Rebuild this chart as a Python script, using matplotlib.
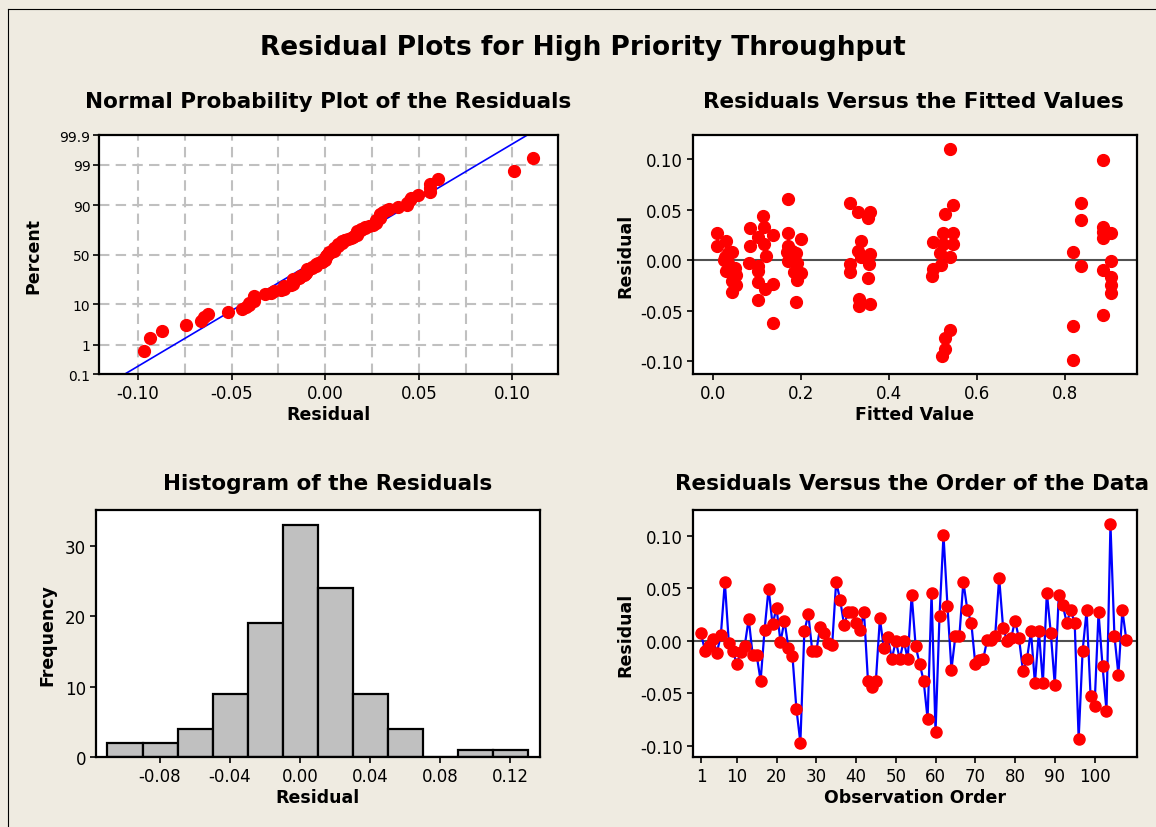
import numpy as np
import matplotlib
matplotlib.use('Agg')
import matplotlib.pyplot as plt
from matplotlib.lines import Line2D
from statistics import NormalDist

#
# residuals in observation order (1..108)
#
residuals = [
    0.007, -0.0095, -0.005, 0.0016, -0.0115, 0.0055, 0.056, -0.002, -0.0095, -0.022,
    -0.011, -0.005, 0.021, -0.0136, -0.0136, -0.038, 0.0104, 0.0497, 0.0155, 0.031,
    -0.0012, 0.019, -0.007, -0.0142, -0.0648, -0.097, 0.0089, 0.0253, -0.0102, -0.0102,
    0.0135, 0.007, -0.002, -0.004, 0.056, 0.039, 0.015, 0.027, 0.027, 0.0172,
    0.0105, 0.027, -0.038, -0.0443, -0.038, 0.0212, -0.0073, 0.0032, -0.0174, -0.0003,
    -0.0174, 0.0, -0.0174, 0.0437, -0.0052, -0.0218, -0.038, -0.0744, 0.0453, -0.087,
    0.0234, 0.1007, 0.0332, -0.0275, 0.0047, 0.0047, 0.056, 0.0294, 0.0168, -0.0222,
    -0.0184, -0.0174, 0.001, 0.0003, 0.0047, 0.060, 0.012, 0.0, 0.0022, 0.019,
    0.0022, -0.029, -0.0174, 0.0089, -0.0405, 0.0089, -0.0405, 0.0459, 0.007, -0.0424,
    0.0437, 0.0339, 0.0171, 0.029, 0.0171, -0.0934, -0.0095, 0.029, -0.0522, -0.0624,
    0.0269, -0.0237, -0.0665, 0.111, 0.0047, -0.0323, 0.029, 0.0006,
]

#
# fitted value / residual pairs
#
fit_x = [
    0.0105, 0.0105, 0.030, 0.028, 0.034, 0.044, 0.025, 0.030, 0.040, 0.050,
    0.052, 0.044, 0.052, 0.044, 0.034,
    0.085, 0.085, 0.083, 0.104, 0.115, 0.116, 0.116, 0.102, 0.104, 0.102,
    0.102, 0.121, 0.119, 0.136, 0.136, 0.136,
    0.172, 0.172, 0.172, 0.170, 0.181, 0.190, 0.172, 0.182, 0.191, 0.184,
    0.200, 0.191, 0.200, 0.190,
    0.312, 0.331, 0.357, 0.353, 0.338, 0.331, 0.338, 0.357, 0.356, 0.312,
    0.312, 0.353, 0.332, 0.332, 0.357,
    0.539, 0.545, 0.527, 0.523, 0.545, 0.500, 0.523, 0.545, 0.516, 0.539,
    0.518, 0.500, 0.499, 0.539, 0.527, 0.527, 0.521,
    0.836, 0.836, 0.818, 0.836, 0.818, 0.818,
    0.886, 0.887, 0.886, 0.905, 0.886, 0.905, 0.886, 0.905, 0.905, 0.905,
    0.886,
]
fit_resid = [
    0.0267, 0.0135, 0.0185, 0.0026, 0.007, 0.0076, 0.0, -0.0105, -0.009, -0.008,
    -0.015, -0.0205, -0.0248, -0.0313, -0.003,
    0.0314, 0.0142, -0.0033, 0.0224, 0.0432, 0.0323, 0.0158, -0.0063, -0.0105, -0.022,
    -0.0396, 0.0036, -0.0287, 0.0248, -0.0238, -0.0627,
    0.0604, 0.0267, 0.0135, 0.0076, 0.0092, 0.0069, -0.0007, -0.0007, -0.0033, -0.0122,
    -0.0129, -0.0195, 0.0208, -0.0413,
    0.0564, 0.0479, 0.0472, 0.0413, 0.0191, 0.0092, 0.0026, 0.0059, -0.004, -0.004,
    -0.0122, -0.018, -0.0386, -0.0459, -0.0436,
    0.110, 0.0545, 0.0455, 0.0267, 0.0267, 0.0182, 0.0158, 0.0158, 0.0069, 0.0033,
    -0.005, -0.0089, -0.0162, -0.069, -0.0776, -0.0881, -0.0947,
    0.0564, 0.0396, 0.0076, -0.0056, -0.065, -0.099,
    0.099, 0.0323, 0.0215, 0.0267, 0.0274, -0.0013, -0.0096, -0.0172, -0.0248, -0.033,
    -0.0545,
]

hist_edges = [-0.11, -0.09, -0.07, -0.05, -0.03, -0.01, 0.01, 0.03, 0.05, 0.07, 0.09, 0.11, 0.13]
prob_ticks = [0.1, 1, 10, 50, 90, 99, 99.9]
prob_grid = [1, 10, 50, 90, 99]

BG = '#efebe1'
RED = '#ff0000'
BLUE = '#0000ff'
TICK_FS = 12
LABEL_FS = 12.5
TITLE_FS = 15.5


def style_axes(ax):
    for s in ax.spines.values():
        s.set_linewidth(1.6)
        s.set_color('black')
    ax.tick_params(direction='out', length=4, width=1.2, labelsize=TICK_FS, pad=3)


def normal_plot(ax, res):
    nd = NormalDist()
    r = np.sort(np.array(res))
    n = len(r)
    # median ranks (Benard)
    p = (np.arange(1, n + 1) - 0.3) / (n + 0.4)
    z = np.array([nd.inv_cdf(v) for v in p])
    mu, sd = r.mean(), r.std(ddof=1)

    zlo, zhi = nd.inv_cdf(0.001), nd.inv_cdf(0.999)
    zl = np.array([zlo, zhi])

    for gx in [-0.10, -0.075, -0.05, -0.025, 0.0, 0.025, 0.05, 0.075, 0.10]:
        ax.axvline(gx, color='#c0c0c0', lw=1.5, dashes=(5, 3), zorder=0)
    for gp in prob_grid:
        ax.axhline(nd.inv_cdf(gp / 100.0), color='#c0c0c0', lw=1.5, dashes=(5, 3), zorder=0)

    ax.plot(mu + sd * zl, zl, color=BLUE, lw=1.2, zorder=2)
    ax.plot(r, z, 'o', color=RED, ms=8.5, mec=RED, zorder=3, clip_on=False)

    ax.set_xlim(-0.121, 0.1245)
    ax.set_ylim(zlo, zhi)
    ax.set_xticks([-0.10, -0.05, 0.0, 0.05, 0.10])
    ax.set_xticklabels(['-0.10', '-0.05', '0.00', '0.05', '0.10'])
    ax.set_yticks([nd.inv_cdf(v / 100.0) for v in prob_ticks])
    ax.set_yticklabels(['0.1', '1', '10', '50', '90', '99', '99.9'])
    style_axes(ax)
    ax.tick_params(axis='y', labelsize=10, pad=2)
    ax.set_xlabel('Residual', fontsize=LABEL_FS, fontweight='bold', labelpad=2)
    ax.set_ylabel('Percent', fontsize=LABEL_FS, fontweight='bold', labelpad=12)


def main():
    fig = plt.figure(figsize=(11.56, 8.28), dpi=100)
    fig.patch.set_facecolor(BG)

    ax1 = fig.add_axes([0.0854, 0.5467, 0.3976, 0.2890])
    ax2 = fig.add_axes([0.5992, 0.5471, 0.3841, 0.2886])
    ax3 = fig.add_axes([0.0830, 0.0842, 0.3841, 0.2987])
    ax4 = fig.add_axes([0.5992, 0.0842, 0.3841, 0.2987])

    # normal probability plot
    normal_plot(ax1, residuals)

    # residuals versus fits
    ax2.axhline(0, color='#505050', lw=1.5, zorder=1)
    ax2.plot(fit_x, fit_resid, 'o', color=RED, ms=8.5, mec=RED, zorder=3)
    ax2.set_xlim(-0.0455, 0.9636)
    ax2.set_ylim(-0.1129, 0.1238)
    ax2.set_xticks([0.0, 0.2, 0.4, 0.6, 0.8])
    ax2.set_xticklabels(['0.0', '0.2', '0.4', '0.6', '0.8'])
    ax2.set_yticks([-0.10, -0.05, 0.0, 0.05, 0.10])
    ax2.set_yticklabels(['-0.10', '-0.05', '0.00', '0.05', '0.10'])
    style_axes(ax2)
    ax2.set_xlabel('Fitted Value', fontsize=LABEL_FS, fontweight='bold', labelpad=2)
    ax2.set_ylabel('Residual', fontsize=LABEL_FS, fontweight='bold', labelpad=4)

    # histogram
    ax3.hist(residuals, bins=hist_edges, color='#c0c0c0', edgecolor='black', linewidth=1.6)
    ax3.set_xlim(-0.1166, 0.1371)
    ax3.set_ylim(0, 35.1)
    ax3.set_xticks([-0.08, -0.04, 0.0, 0.04, 0.08, 0.12])
    ax3.set_xticklabels(['-0.08', '-0.04', '0.00', '0.04', '0.08', '0.12'])
    ax3.set_yticks([0, 10, 20, 30])
    style_axes(ax3)
    ax3.set_xlabel('Residual', fontsize=LABEL_FS, fontweight='bold', labelpad=2)
    ax3.set_ylabel('Frequency', fontsize=LABEL_FS, fontweight='bold', labelpad=6)

    # residuals versus order
    order = np.arange(1, len(residuals) + 1)
    ax4.axhline(0, color='#505050', lw=1.5, zorder=1)
    ax4.plot(order, residuals, '-', color=BLUE, lw=1.6, zorder=2)
    ax4.plot(order, residuals, 'o', color=RED, ms=8, mec=RED, zorder=3)
    ax4.set_xlim(-1.09, 110.6)
    ax4.set_ylim(-0.111, 0.1245)
    ax4.set_xticks([1, 10, 20, 30, 40, 50, 60, 70, 80, 90, 100])
    ax4.set_yticks([-0.10, -0.05, 0.0, 0.05, 0.10])
    ax4.set_yticklabels(['-0.10', '-0.05', '0.00', '0.05', '0.10'])
    style_axes(ax4)
    ax4.set_xlabel('Observation Order', fontsize=LABEL_FS, fontweight='bold', labelpad=2)
    ax4.set_ylabel('Residual', fontsize=LABEL_FS, fontweight='bold', labelpad=4)

    # titles
    fig.text(0.504, 0.942, 'Residual Plots for High Priority Throughput',
             ha='center', va='center', fontsize=19, fontweight='bold')
    fig.text(0.284, 0.877, 'Normal Probability Plot of the Residuals',
             ha='center', va='center', fontsize=TITLE_FS, fontweight='bold')
    fig.text(0.790, 0.877, 'Residuals Versus the Fitted Values',
             ha='center', va='center', fontsize=TITLE_FS, fontweight='bold')
    fig.text(0.283, 0.415, 'Histogram of the Residuals',
             ha='center', va='center', fontsize=TITLE_FS, fontweight='bold')
    fig.text(0.789, 0.415, 'Residuals Versus the Order of the Data',
             ha='center', va='center', fontsize=TITLE_FS, fontweight='bold')

    # thin window frame along the left and top edges
    fx, fy = 7.5 / 1156, 1 - 9.5 / 828
    fig.add_artist(Line2D([fx, fx], [0, fy], transform=fig.transFigure, color='black', lw=0.8))
    fig.add_artist(Line2D([fx, 1], [fy, fy], transform=fig.transFigure, color='black', lw=0.8))

    fig.savefig('out.png', dpi=100, facecolor=BG)


main()
